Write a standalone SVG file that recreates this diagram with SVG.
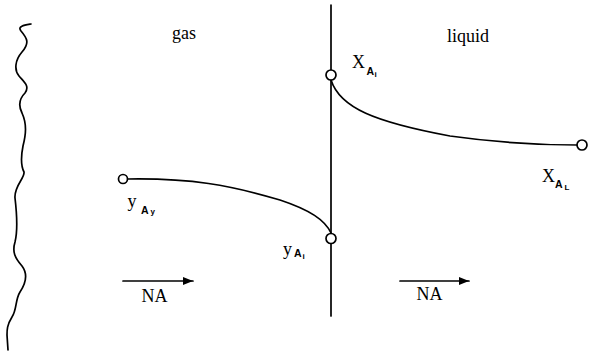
<svg xmlns="http://www.w3.org/2000/svg" width="613" height="351" viewBox="0 0 613 351">
<style>
.ln{fill:none;stroke:#000;stroke-width:1.7;stroke-linecap:round}
.pt{fill:#fff;stroke:#000;stroke-width:1.7}
.t{font-family:"Liberation Serif","DejaVu Serif",serif;fill:#000;font-size:18px}
.s{font-family:"Liberation Sans","DejaVu Sans",sans-serif;fill:#000;font-size:10.5px;font-weight:bold}
.ss{font-family:"Liberation Sans","DejaVu Sans",sans-serif;fill:#000;font-size:8px;font-weight:bold}
</style>
<defs>
<marker id="ah" viewBox="0 0 10 8" refX="10" refY="4" markerWidth="10" markerHeight="8" markerUnits="userSpaceOnUse" orient="auto">
<path d="M0,0 L10,4 L0,8 Z" fill="#000"/>
</marker>
</defs>
<rect width="613" height="351" fill="#fff"/>
<g id="boundary">
<path class="ln" d="M31,24 C25,25 17,26 21,31 C27,38 30,43 22,52 C15,60 14,70 19,76 C24,82 30,86 25,93 C20,98 18,105 22,113 C27,124 26,134 23,146 C21,156 21,166 24,172 C25,178 14,186 15,198 C17,215 18,230 15,242 C12,252 15,258 22,266 C28,274 26,283 20,292 C15,300 17,310 12,317 C7,325 7,330 7,335 L8,350"/>
</g>
<g id="interface">
<line class="ln" x1="331" y1="5" x2="331" y2="316"/>
</g>
<g id="connectors">
<path class="ln" d="M331,80 C340,108 375,122 450,136 C500,143 540,145 577,145"/>
<path class="ln" d="M128,179 C190,178 230,185 280,200 C310,210 325,220 331,233"/>
<line class="ln" x1="123" y1="281" x2="193" y2="281" marker-end="url(#ah)"/>
<line class="ln" x1="400" y1="281" x2="469" y2="281" marker-end="url(#ah)"/>
</g>
<g id="xAi">
<circle class="pt" cx="331" cy="75" r="5"/>
<text class="t" x="352" y="67.5">X</text>
<text class="s" x="366.5" y="75">A</text>
<text class="ss" x="374.5" y="77">i</text>
</g>
<g id="yAi">
<circle class="pt" cx="331" cy="238.5" r="5"/>
<text class="t" x="283" y="255" font-size="20">y</text>
<text class="s" x="294" y="257">A</text>
<text class="ss" x="302.5" y="259">i</text>
</g>
<g id="yAy">
<circle class="pt" cx="123" cy="179" r="4.5"/>
<text class="t" x="127.5" y="207" font-size="20">y</text>
<text class="s" x="141" y="214">A</text>
<text class="ss" x="150.5" y="214">y</text>
</g>
<g id="xAL">
<circle class="pt" cx="582" cy="145" r="5"/>
<text class="t" x="542" y="182">X</text>
<text class="s" x="555" y="188">A</text>
<text class="ss" x="564.5" y="189.5">L</text>
</g>
<g id="labels">
<text class="t" x="172" y="39">gas</text>
<text class="t" x="447" y="42">liquid</text>
<text class="t" x="141.5" y="302">NA</text>
<text class="t" x="416.5" y="300">NA</text>
</g>
</svg>
